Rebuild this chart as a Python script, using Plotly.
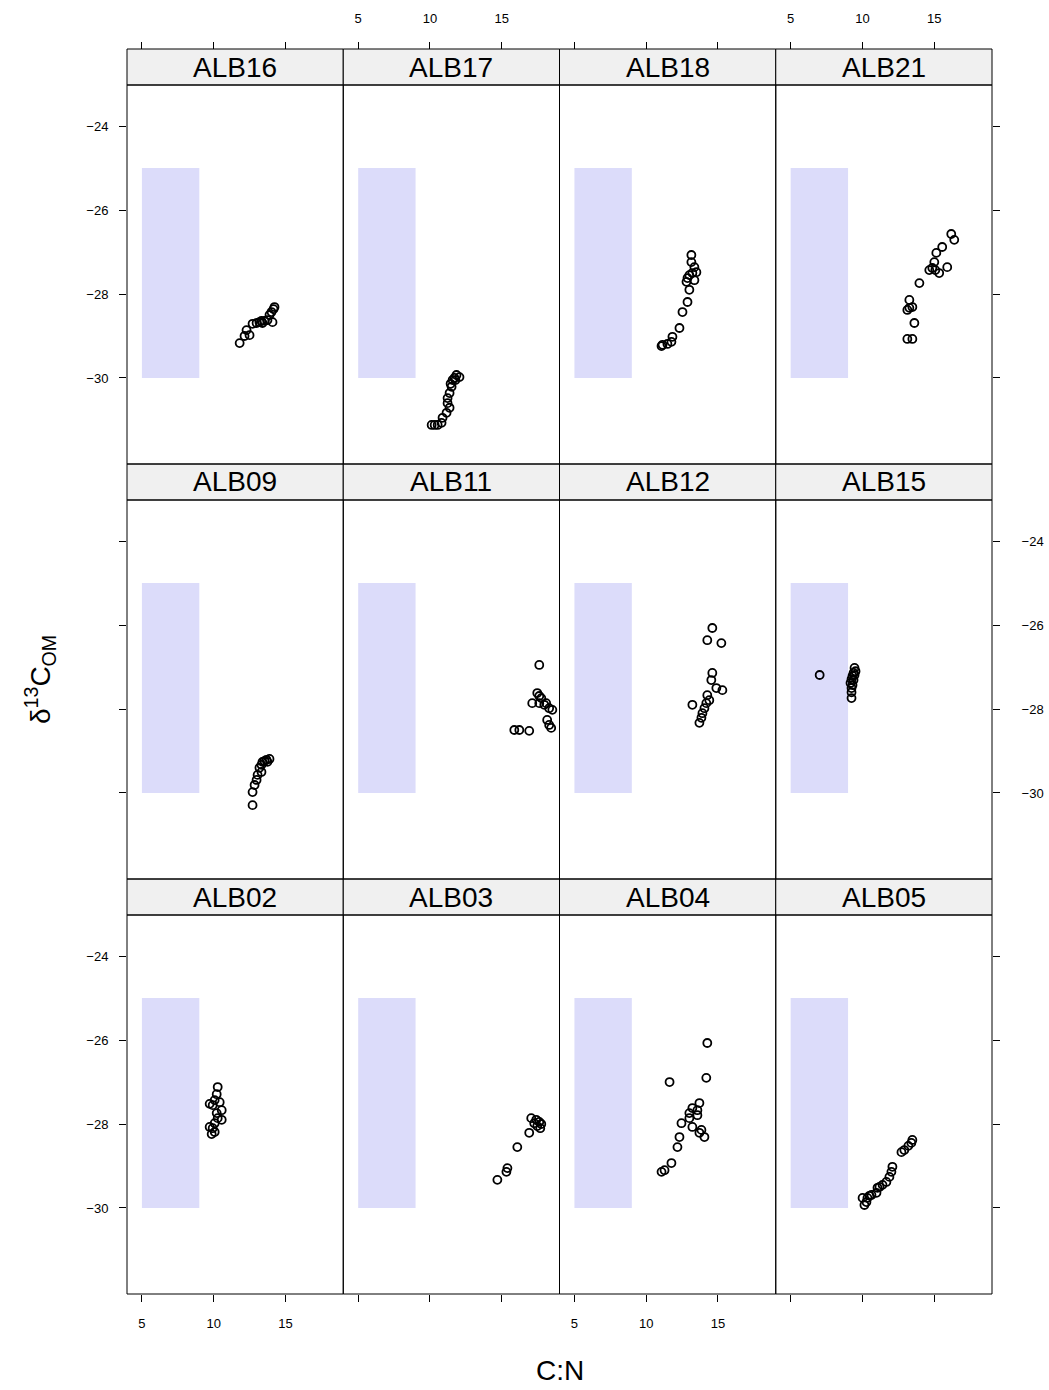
import plotly.graph_objects as go

# C:N ratio and bulk organic-matter d13C for each core, by site
alb16_cn = [11.81, 12.15, 12.29, 12.50, 12.71, 12.99, 13.19, 13.33, 13.54, 13.40, 13.75, 13.89, 14.03, 14.17, 14.24, 14.10]
alb16_d13c = [-29.17, -29.00, -28.86, -28.98, -28.71, -28.69, -28.67, -28.64, -28.64, -28.69, -28.62, -28.50, -28.43, -28.36, -28.31, -28.67]

alb17_cn = [12.06, 11.85, 11.71, 11.58, 11.51, 11.44, 11.37, 11.23, 11.23, 11.37, 11.16, 10.88, 10.81, 10.33, 10.12, 10.54, 11.78]
alb17_d13c = [-29.98, -29.93, -30.00, -30.05, -30.21, -30.14, -30.36, -30.48, -30.60, -30.71, -30.83, -30.95, -31.07, -31.12, -31.12, -31.12, -30.05]

alb18_cn = [13.15, 13.15, 13.36, 13.50, 13.22, 13.01, 12.88, 12.81, 13.01, 12.88, 12.53, 12.32, 11.83, 11.76, 11.48, 11.14, 11.07, 13.36]
alb18_d13c = [-27.07, -27.24, -27.36, -27.48, -27.50, -27.55, -27.62, -27.71, -27.90, -28.19, -28.43, -28.81, -29.02, -29.14, -29.19, -29.21, -29.24, -27.67]

alb21_cn = [16.19, 16.40, 15.56, 15.15, 15.01, 14.87, 14.66, 15.08, 15.35, 15.91, 13.97, 13.27, 13.27, 13.48, 13.13, 13.62, 13.13, 13.48]
alb21_d13c = [-26.57, -26.71, -26.88, -27.02, -27.24, -27.38, -27.43, -27.43, -27.50, -27.36, -27.74, -28.14, -28.33, -28.31, -28.38, -28.69, -29.07, -29.07]

alb09_cn = [13.89, 13.68, 13.54, 13.40, 13.33, 13.19, 13.33, 13.06, 12.99, 12.85, 12.71, 12.71, 13.75]
alb09_d13c = [-29.19, -29.21, -29.24, -29.26, -29.33, -29.40, -29.50, -29.57, -29.69, -29.81, -29.98, -30.29, -29.26]

alb11_cn = [17.62, 17.48, 17.62, 17.76, 17.13, 17.62, 17.97, 18.10, 18.31, 18.53, 18.17, 18.31, 18.45, 15.88, 16.23, 16.92]
alb11_d13c = [-26.95, -27.62, -27.69, -27.74, -27.86, -27.86, -27.90, -27.86, -27.98, -28.02, -28.26, -28.38, -28.45, -28.50, -28.50, -28.52]

alb12_cn = [14.61, 14.26, 15.24, 14.61, 14.54, 14.89, 15.31, 14.26, 14.40, 14.19, 13.22, 14.06, 13.92, 13.85, 13.71]
alb12_d13c = [-26.07, -26.36, -26.43, -27.14, -27.31, -27.50, -27.55, -27.67, -27.79, -27.86, -27.90, -27.98, -28.10, -28.21, -28.33]

alb15_cn = [7.02, 9.45, 9.52, 9.38, 9.31, 9.24, 9.38, 9.17, 9.31, 9.24, 9.24, 9.24, 9.45]
alb15_d13c = [-27.19, -27.02, -27.10, -27.14, -27.21, -27.29, -27.31, -27.38, -27.43, -27.50, -27.60, -27.74, -27.19]

alb02_cn = [10.28, 10.21, 10.07, 10.42, 9.72, 9.93, 10.56, 10.21, 10.28, 10.56, 10.07, 9.72, 9.93, 10.07, 9.86]
alb02_d13c = [-27.12, -27.29, -27.43, -27.48, -27.52, -27.55, -27.67, -27.74, -27.86, -27.90, -27.98, -28.07, -28.10, -28.19, -28.24]

alb03_cn = [17.06, 17.41, 17.62, 17.76, 17.48, 17.69, 17.27, 16.92, 16.09, 15.40, 15.33, 14.70]
alb03_d13c = [-27.86, -27.90, -27.95, -28.00, -28.05, -28.10, -27.98, -28.21, -28.55, -29.05, -29.14, -29.33]

alb04_cn = [14.26, 11.63, 14.19, 13.71, 13.22, 13.57, 13.01, 13.57, 13.01, 12.46, 13.22, 13.85, 13.71, 14.06, 12.32, 12.18, 11.76, 11.28, 11.07]
alb04_d13c = [-26.07, -27.00, -26.90, -27.50, -27.62, -27.67, -27.74, -27.79, -27.86, -27.98, -28.07, -28.14, -28.21, -28.31, -28.31, -28.55, -28.93, -29.10, -29.14]

alb05_cn = [13.48, 13.41, 13.20, 12.92, 12.72, 12.09, 12.02, 11.88, 11.67, 11.40, 11.19, 11.05, 10.98, 10.63, 10.49, 10.35, 10.28, 10.14, 10.01]
alb05_d13c = [-28.38, -28.45, -28.52, -28.62, -28.67, -29.02, -29.14, -29.26, -29.38, -29.45, -29.50, -29.52, -29.64, -29.69, -29.71, -29.76, -29.86, -29.93, -29.76]

# Panel layout (top row first, as drawn)
panel_rows = [
    ["ALB16", "ALB17", "ALB18", "ALB21"],
    ["ALB09", "ALB11", "ALB12", "ALB15"],
    ["ALB02", "ALB03", "ALB04", "ALB05"],
]

# Reference envelope for C:N and d13C
ref_cn_range = [5, 9]
ref_d13c_range = [-30, -25]

x_ticks = [5, 10, 15]
y_ticks = [-30, -28, -26, -24]
x_range = [3.96, 19.03]
y_range = [-32.05, -23.02]

site_data = {
    "ALB16": (alb16_cn, alb16_d13c), "ALB17": (alb17_cn, alb17_d13c),
    "ALB18": (alb18_cn, alb18_d13c), "ALB21": (alb21_cn, alb21_d13c),
    "ALB09": (alb09_cn, alb09_d13c), "ALB11": (alb11_cn, alb11_d13c),
    "ALB12": (alb12_cn, alb12_d13c), "ALB15": (alb15_cn, alb15_d13c),
    "ALB02": (alb02_cn, alb02_d13c), "ALB03": (alb03_cn, alb03_d13c),
    "ALB04": (alb04_cn, alb04_d13c), "ALB05": (alb05_cn, alb05_d13c),
}

W, H = 1049, 1390
M_L, M_R, M_T, M_B = 127, 57, 49, 96
plot_h = H - M_T - M_B
strip_h = 36.0 / plot_h
panel_h = (1 - 3 * strip_h) / 3
col_w = 0.25

FONT = "Liberation Sans, Arial, Helvetica, sans-serif"

fig = go.Figure()
layout = {}
shapes = []
annotations = []

for r, row in enumerate(panel_rows):
    top = 1 - r * (strip_h + panel_h)
    strip_bottom = top - strip_h
    panel_bottom = strip_bottom - panel_h
    for c, site in enumerate(row):
        k = r * 4 + c + 1
        xa = "x" if k == 1 else f"x{k}"
        ya = "y" if k == 1 else f"y{k}"
        xkey = "xaxis" if k == 1 else f"xaxis{k}"
        ykey = "yaxis" if k == 1 else f"yaxis{k}"
        x0, x1 = c * col_w, (c + 1) * col_w

        cn, d13c = site_data[site]
        fig.add_trace(go.Scatter(
            x=cn, y=d13c, xaxis=xa, yaxis=ya, mode="markers",
            marker=dict(symbol="circle-open", size=8, color="black",
                        line=dict(width=1.8, color="black")),
            showlegend=False, hoverinfo="skip"))

        xax = dict(domain=[x0, x1], range=x_range, showgrid=False, zeroline=False,
                   showline=False, tickvals=x_ticks, ticktext=[str(v) for v in x_ticks],
                   tickfont=dict(size=13, color="black", family=FONT), automargin=False,
                   ticklen=7, tickwidth=1, tickcolor="black", fixedrange=True)
        if r == 0:
            xax.update(anchor="free", position=1.0, side="top", ticks="outside",
                       showticklabels=(c in (1, 3)), ticklabelstandoff=14)
        elif r == 2:
            xax.update(anchor=ya, side="bottom", ticks="outside",
                       showticklabels=(c in (0, 2)), ticklabelstandoff=10)
        else:
            xax.update(anchor=ya, ticks="", showticklabels=False)

        yax = dict(domain=[panel_bottom, strip_bottom], range=y_range, anchor=xa,
                   showgrid=False, zeroline=False, showline=False, automargin=False,
                   tickvals=y_ticks, tickfont=dict(size=13, color="black", family=FONT),
                   ticklen=7, tickwidth=1, tickcolor="black", fixedrange=True)
        if c == 0:
            yax.update(side="left", ticks="outside", showticklabels=(r != 1),
                       ticklabelstandoff=8)
        elif c == 3:
            yax.update(side="right", ticks="outside", showticklabels=(r == 1),
                       ticklabelstandoff=19)
        else:
            yax.update(ticks="", showticklabels=False)

        layout[xkey] = xax
        layout[ykey] = yax

        # reference envelope, in data coordinates
        shapes.append(dict(type="rect", xref=xa, yref=ya, layer="below",
                           x0=ref_cn_range[0], x1=ref_cn_range[1],
                           y0=ref_d13c_range[0], y1=ref_d13c_range[1],
                           fillcolor="#DCDCFA", line=dict(width=0)))
        # panel frame
        shapes.append(dict(type="rect", xref="paper", yref="paper",
                           x0=x0, x1=x1, y0=panel_bottom, y1=strip_bottom,
                           line=dict(color="black", width=1), fillcolor="rgba(0,0,0,0)"))
        # strip
        shapes.append(dict(type="rect", xref="paper", yref="paper",
                           x0=x0, x1=x1, y0=strip_bottom, y1=top,
                           line=dict(color="black", width=1), fillcolor="#F0F0F0",
                           layer="below"))
        annotations.append(dict(text=site, xref="paper", yref="paper",
                                x=(x0 + x1) / 2, y=(strip_bottom + top) / 2,
                                xanchor="center", yanchor="middle", showarrow=False,
                                font=dict(size=28, color="black", family=FONT)))

annotations.append(dict(text="C:N", xref="paper", yref="paper",
                        x=0.5, y=-(1370 - (H - M_B)) / plot_h,
                        xanchor="center", yanchor="middle", showarrow=False,
                        font=dict(size=28, color="black", family=FONT)))
annotations.append(dict(text="δ<sup>13</sup>C<sub>OM</sub>", xref="paper", yref="paper",
                        x=(40 - M_L) / (W - M_L - M_R), y=((H - M_B) - 680) / plot_h,
                        xanchor="center", yanchor="middle", textangle=-90, showarrow=False,
                        font=dict(size=28, color="black", family=FONT)))

fig.update_layout(
    width=W, height=H,
    margin=dict(l=M_L, r=M_R, t=M_T, b=M_B, pad=0, autoexpand=False),
    paper_bgcolor="white", plot_bgcolor="white",
    shapes=shapes, annotations=annotations,
    **layout,
)

fig.write_html("out.html", config={"displayModeBar": False})
